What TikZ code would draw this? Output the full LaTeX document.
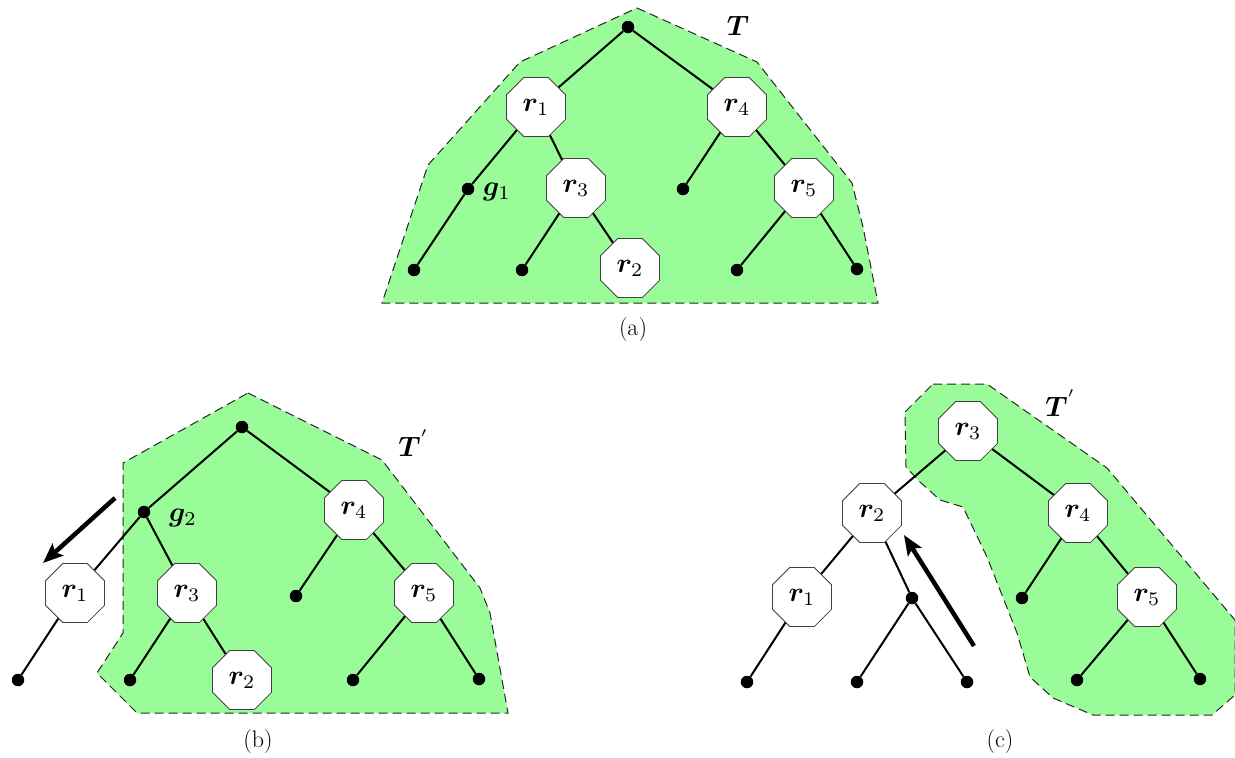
\documentclass[tikz,border=0pt]{standalone}
\usepackage{graphicx}
\usepackage{bm}
\usetikzlibrary{shapes.geometric,arrows.meta}
\definecolor{zone}{RGB}{153,252,153}
\newcommand{\mlab}[1]{\scalebox{2.75}{$#1$}}
\newcommand{\tlab}[1]{\scalebox{2.8}{$#1$}}
\tikzset{
  oct/.style={regular polygon, regular polygon sides=8, minimum size=64pt, inner sep=0pt,
    draw=black!75, line width=0.8pt, fill=white},
  dot/.style={circle, fill=black, inner sep=0pt, minimum size=12.5pt},
  edge/.style={line width=2pt},
  zonebox/.style={fill=zone, draw=black!85, line width=1pt, dash pattern=on 9pt off 5pt},
  lbl/.style={inner sep=0pt},
  captext/.style={inner sep=0pt, font=\fontsize{24}{28}\selectfont},
  movearrow/.style={line width=4.5pt, -{Stealth[length=20pt,width=16pt,inset=4pt]}}
}
\begin{document}
\begin{tikzpicture}[x=1pt,y=-1pt]
\useasboundingbox (0,0) rectangle (1235,758);
% ---------- (a) ----------
\fill[zonebox] (637,8) -- (757,62) -- (852,183) -- (863,227) -- (878,303) -- (382,303) -- (428,165) -- (520,62) -- cycle;
\node[dot] (a0) at (628,27) {};
\node[oct] (a1) at (536,107) {\mlab{\bm{r}_1}};
\node[oct] (a4) at (737,107) {\mlab{\bm{r}_4}};
\node[dot] (ag) at (468,189) {};
\node[oct] (a3) at (576,188) {\mlab{\bm{r}_3}};
\node[dot] (ad) at (683,189) {};
\node[oct] (a5) at (804,188) {\mlab{\bm{r}_5}};
\node[dot] (al1) at (414,270) {};
\node[dot] (al2) at (522,270) {};
\node[oct] (a2) at (630,268) {\mlab{\bm{r}_2}};
\node[dot] (al3) at (737,270) {};
\node[dot] (al4) at (857,269) {};
\node[lbl] (aT) at (738,26) {\tlab{\bm{T}}};
\node[lbl] (agl) at (497,192) {\tlab{\bm{g}_1}};
\draw[edge] (a0) -- (a1);
\draw[edge] (a0) -- (a4);
\draw[edge] (a1) -- (ag);
\draw[edge] (ag) -- (al1);
\draw[edge] (a1) -- (a3);
\draw[edge] (a3) -- (al2);
\draw[edge] (a3) -- (a2);
\draw[edge] (a4) -- (ad);
\draw[edge] (a4) -- (a5);
\draw[edge] (a5) -- (al3);
\draw[edge] (a5) -- (al4);
\node[captext] (capa) at (633,330) {(a)};
% ---------- (b) ----------
\fill[zonebox] (248,393) -- (382,460) -- (480,588) -- (490,613) -- (508,713) -- (137,713) -- (97,673) -- (123,633) -- (123,463) -- cycle;
\node[dot] (b0) at (242,427) {};
\node[dot] (bg) at (144,512) {};
\node[oct] (b1) at (75,593) {\mlab{\bm{r}_1}};
\node[oct] (b3) at (187,593) {\mlab{\bm{r}_3}};
\node[oct] (b4) at (354,510) {\mlab{\bm{r}_4}};
\node[dot] (bd) at (296,596) {};
\node[oct] (b5) at (424,593) {\mlab{\bm{r}_5}};
\node[dot] (bl1) at (18,680) {};
\node[dot] (bl2) at (130,680) {};
\node[oct] (b2) at (242,680) {\mlab{\bm{r}_2}};
\node[dot] (bl3) at (353,680) {};
\node[dot] (bl4) at (479,679) {};
\node[lbl] (bT) at (414,443) {\tlab{\bm{T}^{'}}};
\node[lbl] (bgl) at (183,518) {\tlab{\bm{g}_2}};
\draw[edge] (b0) -- (bg);
\draw[edge] (b0) -- (b4);
\draw[edge] (bg) -- (b1);
\draw[edge] (bg) -- (b3);
\draw[edge] (b1) -- (bl1);
\draw[edge] (b3) -- (bl2);
\draw[edge] (b3) -- (b2);
\draw[edge] (b4) -- (bd);
\draw[edge] (b4) -- (b5);
\draw[edge] (b5) -- (bl3);
\draw[edge] (b5) -- (bl4);
\coordinate (bas) at (115,498);
\coordinate (bae) at (43,563);
\draw[movearrow] (bas) -- (bae);
\node[captext] (capb) at (258,742) {(b)};
% ---------- (c) ----------
\fill[zonebox] (933,384) -- (987,384) -- (1107,468) -- (1235,620) -- (1235,695) -- (1212,715) -- (1093,715) -- (1053,698) -- (1030,677) -- (1017,633) -- (987,557) -- (963,507) -- (940,500) -- (920,482) -- (906,467) -- (905,412) -- cycle;
\node[oct] (c3) at (968,431) {\mlab{\bm{r}_3}};
\node[oct] (c2) at (872,513) {\mlab{\bm{r}_2}};
\node[oct] (c1) at (802,597) {\mlab{\bm{r}_1}};
\node[oct] (c4) at (1078,513) {\mlab{\bm{r}_4}};
\node[dot] (cd) at (1022,598) {};
\node[oct] (c5) at (1147,597) {\mlab{\bm{r}_5}};
\node[dot] (cm) at (912,598) {};
\node[dot] (cl1) at (747,682) {};
\node[dot] (cl2) at (857,682) {};
\node[dot] (cl3) at (967,682) {};
\node[dot] (cl4) at (1077,680) {};
\node[dot] (cl5) at (1200,679) {};
\node[lbl] (cT) at (1061,403) {\tlab{\bm{T}^{'}}};
\draw[edge] (c3) -- (c2);
\draw[edge] (c3) -- (c4);
\draw[edge] (c2) -- (c1);
\draw[edge] (c2) -- (cm);
\draw[edge] (c1) -- (cl1);
\draw[edge] (cm) -- (cl2);
\draw[edge] (cm) -- (cl3);
\draw[edge] (c4) -- (cd);
\draw[edge] (c4) -- (c5);
\draw[edge] (c5) -- (cl4);
\draw[edge] (c5) -- (cl5);
\coordinate (cas) at (974,646);
\coordinate (cae) at (904,535);
\draw[movearrow] (cas) -- (cae);
\node[captext] (capc) at (1000,742) {(c)};
\end{tikzpicture}
\end{document}
